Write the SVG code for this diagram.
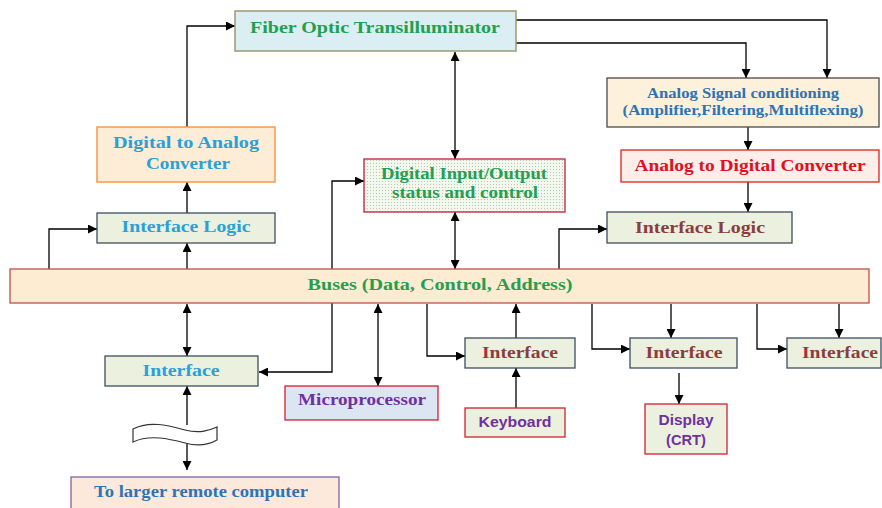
<svg xmlns="http://www.w3.org/2000/svg" width="882" height="508" viewBox="0 0 882 508">
<defs>
<marker id="ah" viewBox="0 0 10 10" refX="10" refY="5" markerWidth="9" markerHeight="9" markerUnits="userSpaceOnUse" orient="auto-start-reverse">
<path d="M0,0 L10,5 L0,10 z" fill="#000"/>
</marker>
<pattern id="dots" width="3" height="3" patternUnits="userSpaceOnUse">
<rect width="3" height="3" fill="#f3f8ee"/>
<rect x="1" y="1" width="1" height="1" fill="#b9c9b0"/>
</pattern>
<style>
.t{font-family:"Liberation Serif","Times New Roman",serif;font-weight:bold;text-anchor:middle}
.s{font-family:"Liberation Sans",Arial,sans-serif;font-weight:bold;text-anchor:middle}
.g{fill:#22a050}
.b{fill:#2aa0d8}
.db{fill:#2e74b5}
.br{fill:#8b3c3c}
.pu{fill:#7030a0}
.rd{fill:#e01020}
.c{fill:none;stroke:#000;stroke-width:1.3}
.ce{marker-end:url(#ah)}
.cb{marker-start:url(#ah);marker-end:url(#ah)}
.ifc{fill:#ebf1de;stroke:#3d4f60;stroke-width:1.3}
</style>
</defs>
<rect width="882" height="508" fill="#fff"/>

<g id="connectors">
<path class="c ce" d="M187,127 V26 H235"/>
<path class="c ce" d="M516,20 H827 V78"/>
<path class="c ce" d="M516,43 H746 V78"/>
<path class="c ce" d="M748,127 V150"/>
<path class="c ce" d="M748,182 V212"/>
<path class="c ce" d="M559,269 V229 H607"/>
<path class="c cb" d="M455,52 V159"/>
<path class="c cb" d="M455,212 V269"/>
<path class="c cb" d="M364,181 H332 V372 H259"/>
<path class="c ce" d="M187,213 V182"/>
<path class="c ce" d="M187,269 V243"/>
<path class="c ce" d="M49,269 V229 H97"/>
<path class="c cb" d="M187,304 V356"/>
<path class="c ce" d="M187,425 V386"/>
<path class="c ce" d="M187,443 V470"/>
<path class="c cb" d="M378,304 V386"/>
<path class="c ce" d="M427,304 V356 H465"/>
<path class="c ce" d="M516,338 V304"/>
<path class="c ce" d="M516,408 V368"/>
<path class="c ce" d="M592,304 V349 H630"/>
<path class="c ce" d="M671,304 V338"/>
<path class="c ce" d="M679,373 V404"/>
<path class="c ce" d="M757,304 V349 H787"/>
<path class="c ce" d="M839,304 V338"/>
</g>

<g id="fiber">
<rect x="235" y="11" width="281" height="40" fill="#daeef3" stroke="#9a9a70" stroke-width="1.5"/>
<text class="t g" x="375" y="33" font-size="17.5" textLength="250" lengthAdjust="spacingAndGlyphs">Fiber Optic Transilluminator</text>
</g>

<g id="asc">
<rect x="607" y="78" width="272" height="49" fill="#fdf1dc" stroke="#4a4a4a" stroke-width="1.3"/>
<text class="t db" x="743" y="98" font-size="14" textLength="192" lengthAdjust="spacingAndGlyphs">Analog Signal conditioning</text>
<text class="t db" x="743" y="115" font-size="14" textLength="241" lengthAdjust="spacingAndGlyphs">(Amplifier,Filtering,Multiflexing)</text>
</g>

<g id="adc">
<rect x="621" y="150" width="258" height="32" fill="#fdeeea" stroke="#e02020" stroke-width="1.3"/>
<text class="t rd" x="750" y="171" font-size="17" textLength="231" lengthAdjust="spacingAndGlyphs">Analog to Digital Converter</text>
</g>

<g id="il-right">
<rect class="ifc" x="607" y="212" width="185" height="31"/>
<text class="t br" x="700" y="233" font-size="16.5" textLength="130" lengthAdjust="spacingAndGlyphs">Interface Logic</text>
</g>

<g id="dio">
<rect x="364" y="159" width="201" height="53" fill="url(#dots)" stroke="#c0203a" stroke-width="1.3"/>
<text class="t g" x="464" y="179" font-size="16" textLength="166" lengthAdjust="spacingAndGlyphs">Digital Input/Output</text>
<text class="t g" x="465" y="198" font-size="16" textLength="146" lengthAdjust="spacingAndGlyphs">status and control</text>
</g>

<g id="dac">
<rect x="97" y="127" width="178" height="55" fill="#fdecd6" stroke="#f09a50" stroke-width="1.5"/>
<text class="t b" x="186" y="148" font-size="17.5" textLength="146" lengthAdjust="spacingAndGlyphs">Digital to Analog</text>
<text class="t b" x="188" y="169" font-size="17.5" textLength="84" lengthAdjust="spacingAndGlyphs">Converter</text>
</g>

<g id="il-left">
<rect class="ifc" x="97" y="213" width="178" height="30"/>
<text class="t b" x="186" y="232" font-size="17.5" textLength="129" lengthAdjust="spacingAndGlyphs">Interface Logic</text>
</g>

<g id="bus">
<rect x="10" y="269" width="859" height="34" fill="#fdebd2" stroke="#c0504d" stroke-width="1.3"/>
<text class="t g" x="440" y="290" font-size="17" textLength="265" lengthAdjust="spacingAndGlyphs">Buses (Data, Control, Address)</text>
</g>

<g id="if-left">
<rect class="ifc" x="105" y="356" width="153" height="30"/>
<text class="t b" x="181" y="376" font-size="17" textLength="77" lengthAdjust="spacingAndGlyphs">Interface</text>
</g>

<g id="tape">
<path d="M133,429 C150,420 170,426 185,430 C200,434 210,430 217,427 V440 C210,444 200,447 185,443 C170,439 150,434 133,442 Z" fill="#fff" stroke="#333" stroke-width="1.2"/>
</g>

<g id="remote">
<rect x="71" y="477" width="268" height="40" fill="#fde9dc" stroke="#8064a2" stroke-width="1.3"/>
<text class="t db" x="201" y="497" font-size="16.5" textLength="214" lengthAdjust="spacingAndGlyphs">To larger remote computer</text>
</g>

<g id="micro">
<rect x="285" y="386" width="153" height="34" fill="#dce6f2" stroke="#d02030" stroke-width="1.3"/>
<text class="t pu" x="362" y="405" font-size="17.5" textLength="128" lengthAdjust="spacingAndGlyphs">Microprocessor</text>
</g>

<g id="if-kb">
<rect class="ifc" x="465" y="338" width="110" height="30"/>
<text class="t br" x="520" y="358" font-size="17" textLength="76" lengthAdjust="spacingAndGlyphs">Interface</text>
</g>

<g id="keyboard">
<rect x="465" y="408" width="100" height="29" fill="#ebf1de" stroke="#d02030" stroke-width="1.3"/>
<text class="s pu" x="515" y="427" font-size="14" textLength="73" lengthAdjust="spacingAndGlyphs">Keyboard</text>
</g>

<g id="if-disp">
<rect class="ifc" x="630" y="338" width="107" height="30"/>
<text class="t br" x="684" y="358" font-size="17" textLength="77" lengthAdjust="spacingAndGlyphs">Interface</text>
</g>

<g id="display">
<rect x="645" y="404" width="82" height="50" fill="#ebf1de" stroke="#d02030" stroke-width="1.3"/>
<text class="s pu" x="686" y="425" font-size="15" textLength="55" lengthAdjust="spacingAndGlyphs">Display</text>
<text class="s pu" x="686" y="445" font-size="15" textLength="40" lengthAdjust="spacingAndGlyphs">(CRT)</text>
</g>

<g id="if-right">
<rect class="ifc" x="787" y="338" width="94" height="30"/>
<text class="t br" x="840" y="358" font-size="17" textLength="76" lengthAdjust="spacingAndGlyphs">Interface</text>
</g>
</svg>
